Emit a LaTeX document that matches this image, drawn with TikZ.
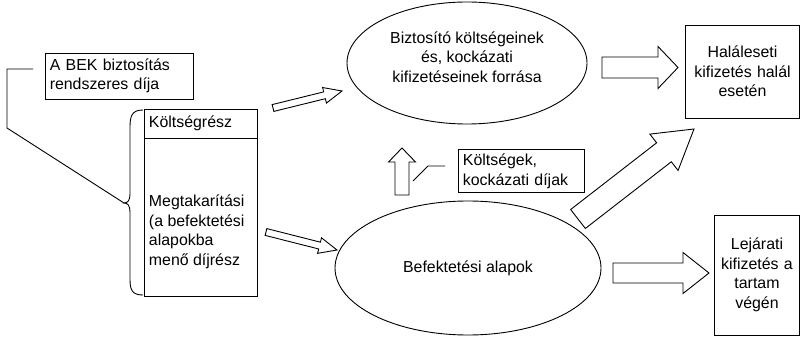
\documentclass[tikz,border=0pt]{standalone}
\usepackage{fontspec}
\setmainfont{Liberation Sans}
\usetikzlibrary{calc, shapes.geometric}

\def\pxu{0.667pt}

\tikzset{
  box/.style={draw, inner sep=3pt},
  fund/.style={draw, ellipse, inner sep=0pt},
  blockarrow/.style={draw, fill=white, line join=miter},
}

% hollow block arrow: tail, tip, shaft half width, head half width, head length
\newcommand{\hollowarrow}[5]{%
  \coordinate (hb) at ($(#2)!#5*\pxu!(#1)$);
  \draw[blockarrow] ($(#1)!#3*\pxu!90:(#2)$) -- ($(hb)!#3*\pxu!90:(#2)$)
    -- ($(hb)!#4*\pxu!90:(#2)$) -- (#2) -- ($(hb)!#4*\pxu!-90:(#2)$)
    -- ($(hb)!#3*\pxu!-90:(#2)$) -- ($(#1)!#3*\pxu!-90:(#2)$) -- cycle;
}

\begin{document}
\begin{tikzpicture}[x=\pxu, y=-\pxu, line width=0.6pt,
  font=\fontsize{10.6pt}{13pt}\selectfont]
  \useasboundingbox (0,0) rectangle (801,337);

  % Premium and its split
  \node[box, align=left, text width=93pt, minimum height=46*\pxu] (bek) at (119.5,76) {A BEK biztosítás\\rendszeres díja};
  \node[draw, minimum width=113*\pxu, minimum height=187*\pxu] (dij) at (200.5,202.5) {};
  \draw (dij.west |- 0,138) -- (dij.east |- 0,138);
  \node[anchor=west] (koltseg) at (dij.west |- 0,123) {Költségrész};
  \node[anchor=west, align=left] (megtak) at (dij.west |- 0,232) {Megtakarítási\\(a befektetési\\alapokba\\menő díjrész};

  % Brace and callout
  \coordinate (bracetip) at (124,203);
  \draw (143,110) .. controls (132,110) and (130,116) .. (130,127) -- (130,194)
    .. controls (130,200) and (128,203) .. (bracetip)
    .. controls (128,203) and (130,206) .. (130,212) -- (130,279)
    .. controls (130,290) and (132,295) .. (143,295);
  \coordinate (callout) at (33,69);
  \draw (callout) -- (7,69) -- (7,128) -- (bracetip);

  % Funds
  \node[fund, minimum width=240*\pxu, minimum height=122*\pxu] (forras) at (467,63) {};
  \node[align=center] (forrastext) at (467,57) {Biztosító költségeinek\\és, kockázati\\kifizetéseinek forrása};
  \node[fund, minimum width=266*\pxu, minimum height=134*\pxu] (alapok) at (468,268) {Befektetési alapok};

  \node[box, align=left, text width=78pt, minimum height=39*\pxu, anchor=north west] (dijak) at (458,149) {Költségek,\\kockázati díjak};
  \coordinate (dijakline) at (445,166);
  \draw (dijakline) -- (428,166) -- (413,181);

  % Payouts
  \node[box, align=center, text width=70pt, minimum height=93*\pxu] (halal) at (742.5,71.5) {Haláleseti\\kifizetés halál\\esetén};
  \node[box, align=center, text width=51pt, minimum height=120*\pxu] (lejarat) at (757,275) {Lejárati\\kifizetés a\\tartam\\végén};

  % Flows
  \coordinate (koltseg-s) at (273,108); \coordinate (koltseg-e) at (342,91);
  \coordinate (megtak-s) at (266,232);  \coordinate (megtak-e) at (337,250);
  \coordinate (dijak-s) at (402,195);   \coordinate (dijak-e) at (402,148);
  \coordinate (halal-s) at (602,67.5);  \coordinate (halal-e) at (678,67.5);
  \coordinate (kockazat-s) at (578,219); \coordinate (kockazat-e) at (694,129);
  \coordinate (lejarat-s) at (613,273); \coordinate (lejarat-e) at (709,273);
  \hollowarrow{koltseg-s}{koltseg-e}{3.5}{8}{18}
  \hollowarrow{megtak-s}{megtak-e}{3.5}{8}{18}
  \hollowarrow{dijak-s}{dijak-e}{7}{13.5}{14}
  \hollowarrow{halal-s}{halal-e}{10.5}{21}{20}
  \hollowarrow{kockazat-s}{kockazat-e}{12}{23}{38}
  \hollowarrow{lejarat-s}{lejarat-e}{10}{20.5}{26}
\end{tikzpicture}
\end{document}
